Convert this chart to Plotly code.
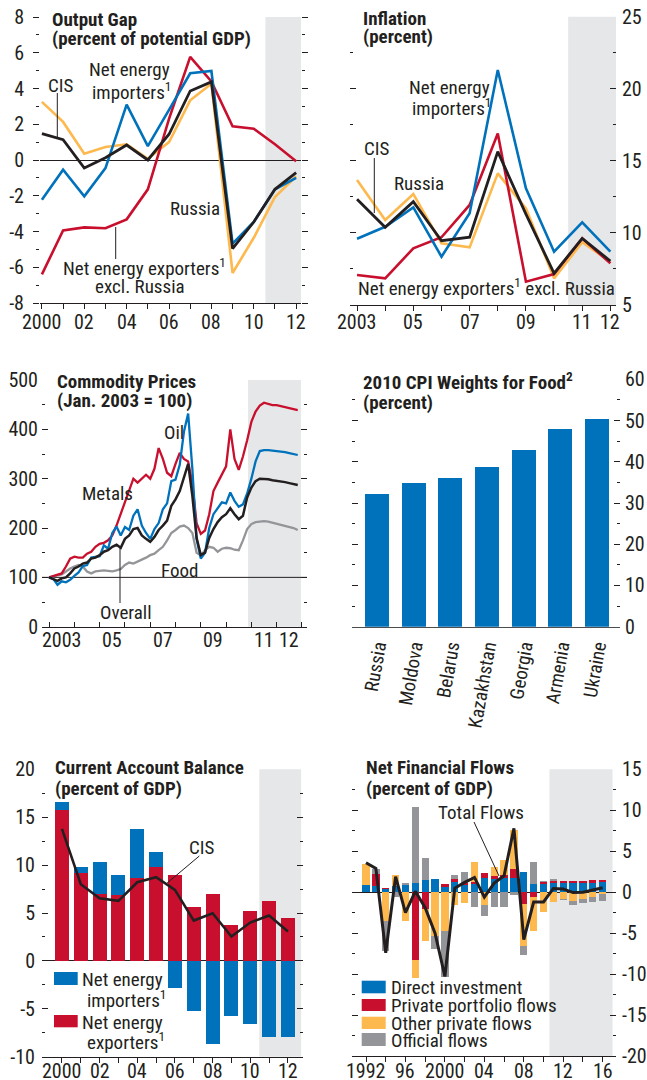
import plotly.graph_objects as go

# ------------------------------------------------------------------ data
gap_years = list(range(2000, 2013))
gap_cis = [1.47, 1.14, -0.45, 0.13, 0.84, 0.0, 1.44, 3.86, 4.37, -4.96, -3.47, -1.64, -0.71]
gap_importers = [-2.22, -0.54, -2.03, -0.45, 3.10, 0.78, 2.80, 4.85, 4.98, -4.68, -3.47, -1.64, -1.00]
gap_russia = [3.25, 2.13, 0.35, 0.73, 0.88, 0.07, 1.00, 3.34, 4.27, -6.32, -4.35, -2.07, -0.91]
gap_exporters = [-6.40, -3.94, -3.77, -3.82, -3.32, -1.64, 2.30, 5.77, 4.40, 1.88, 1.75, 0.88, -0.07]
gap_labels = {2000: "2000", 2002: "02", 2004: "04", 2006: "06", 2008: "08", 2010: "10", 2012: "12"}

inf_years = list(range(2003, 2013))
inf_importers = [9.6, 10.43, 11.77, 8.35, 11.36, 21.3, 13.1, 8.7, 10.73, 8.7]
inf_exporters = [7.08, 6.85, 8.93, 9.7, 11.94, 16.9, 6.62, 7.15, 9.62, 7.89]
inf_russia = [13.67, 10.9, 12.7, 9.28, 9.0, 14.13, 11.7, 6.85, 9.35, 8.0]
inf_cis = [12.33, 10.39, 12.17, 9.46, 9.7, 15.64, 11.3, 7.2, 9.62, 8.05]
inf_labels = {2003: "2003", 2005: "05", 2007: "07", 2009: "09", 2011: "11", 2012: "12"}

com_years = list(range(2003, 2013))
com_months = [1, 3, 5, 7, 9, 11]
com_oil = [100, 97, 85, 92, 90, 95,
           103, 110, 123, 125, 140, 142,
           143, 165, 158, 190, 203, 185,
           202, 196, 225, 238, 205, 190,
           178, 198, 210, 238, 250, 295,
           298, 328, 395, 432, 320, 178,
           138, 150, 200, 228, 240, 252,
           250, 272, 255, 243, 248, 270,
           300, 335, 356, 358, 358, 357,
           357, 356, 354, 352, 350, 348]
com_metals = [100, 103, 106, 108, 122, 138,
              142, 140, 140, 148, 152, 162,
              168, 170, 175, 185, 205, 228,
              250, 275, 300, 292, 300, 308,
              300, 320, 362, 340, 312, 305,
              330, 352, 340, 335, 290, 210,
              188, 195, 228, 275, 292, 310,
              325, 400, 340, 318, 345, 378,
              415, 436, 448, 454, 452, 449,
              449, 447, 445, 443, 441, 439]
com_overall = [100, 96, 93, 98, 100, 108,
               118, 122, 128, 130, 138, 140,
               145, 152, 155, 162, 166, 160,
               178, 185, 198, 200, 185, 178,
               172, 182, 196, 205, 215, 245,
               258, 275, 305, 330, 265, 180,
               145, 150, 180, 198, 212, 222,
               228, 240, 228, 218, 225, 262,
               282, 295, 300, 300, 299, 297,
               296, 295, 293, 291, 289, 287]
com_food = [100, 102, 104, 106, 112, 118,
            122, 125, 122, 112, 108, 112,
            113, 114, 113, 112, 114, 117,
            125, 130, 128, 132, 135, 140,
            145, 148, 155, 162, 175, 190,
            196, 203, 205, 200, 190, 150,
            145, 155, 162, 160, 152, 158,
            160, 159, 156, 155, 175, 198,
            208, 212, 213, 214, 213, 211,
            209, 207, 205, 203, 200, 196]
com_labels = {2003.5: "2003", 2005.5: "05", 2007.5: "07", 2009.5: "09", 2011.5: "11", 2012.5: "12"}

cpi_countries = ["Russia", "Moldova", "Belarus", "Kazakhstan", "Georgia", "Armenia", "Ukraine"]
cpi_weights = [32.2, 34.9, 36.1, 38.8, 42.9, 48.0, 50.4]

ca_years = list(range(2000, 2013))
ca_exporters = [15.77, 9.15, 7.0, 6.86, 8.67, 9.78, 8.98, 5.64, 7.0, 3.76, 5.22, 6.27, 4.49]
ca_importers = [0.8, 0.63, 3.3, 2.09, 5.11, 1.6, -2.78, -5.19, -8.67, -5.71, -6.58, -7.9, -7.97]
ca_cis = [13.78, 8.0, 6.54, 6.27, 8.21, 8.74, 7.41, 4.21, 4.98, 2.54, 4.0, 4.73, 3.06]

ff_years = list(range(1992, 2017))
ff_direct = [0.9, 0.81, 0.37, 0.8, 0.93, 1.1, 1.5, 1.6, 0.57, 1.3, 0.9, 1.02, 1.79,
             1.59, 1.71, 1.79, 2.52, 1.02, 1.02, 1.1, 1.06, 1.06, 1.1, 1.1, 1.22]
ff_portfolio = [0, 1.43, 0.16, 0, 0, -8.26, -2.08, 0, 0.41, 0.29, 0.2, 0.2, 0.53,
                0.33, 0.41, 1.06, -1.42, -0.53, 0.28, 0.28, 0.32, 0.28, 0.28, 0.4, 0.28]
ff_other = [2.56, 0, -3.58, 1.3, -3.58, -2.24, -3.86, -5.3, -4.72, -1.55, -1.34, 2.52, -1.55,
            1.1, 1.83, 4.76, -5.21, -4.27, -2.48, -1.14, -0.81, -1.06, -0.85, -0.53, -0.2]
ff_official = [0, 0.6, -3.66, -0.6, 0.2, 9.28, 2.65, -1.66, -5.66, 0.53, 1.42, -1.83, -1.3,
               -1.75, -1.87, -0.33, -1.1, 2.72, 0.12, 0.21, -0.13, -0.49, -0.49, -0.73, -0.82]
ff_total = [3.6, 2.9, -7.4, 1.9, -2.5, 0.1, -1.9, -5.0, -10.3, 0.5, 1.2, 1.8, -0.6,
            1.1, 2.0, 7.8, -5.8, -1.2, -1.2, 0.45, 0.4, -0.05, 0.0, 0.25, 0.55]
ff_labels = {1992: "1992", 1996: "96", 2000: "2000", 2004: "04", 2008: "08", 2012: "12", 2016: "16"}

# ------------------------------------------------------------------ style
W, H = 647, 1080
FONT = "Liberation Sans Narrow, Arial Narrow, Roboto Condensed, DejaVu Sans Condensed, sans-serif"
TXT = "#231f20"
BLUE = "#0072bc"
RED = "#c8102e"
YEL = "#fdb94e"
GRAY = "#939598"
BLACK = "#231f20"
SHADE = "#e6e7e8"


def X(px):
    return px / W


def Y(py):
    return 1 - py / H


def fmt(v):
    return str(int(v)) if float(v).is_integer() else str(v)


fig = go.Figure()

# panel 1: output gap
for ys, c, w in [(gap_russia, YEL, 2.6), (gap_exporters, RED, 2.6),
                 (gap_importers, BLUE, 2.6), (gap_cis, BLACK, 2.8)]:
    fig.add_trace(go.Scatter(x=gap_years, y=ys, mode="lines", line=dict(color=c, width=w),
                             xaxis="x", yaxis="y"))

# panel 2: inflation
for ys, c, w in [(inf_russia, YEL, 2.6), (inf_exporters, RED, 2.6),
                 (inf_importers, BLUE, 2.6), (inf_cis, BLACK, 2.8)]:
    fig.add_trace(go.Scatter(x=inf_years, y=ys, mode="lines", line=dict(color=c, width=w),
                             xaxis="x2", yaxis="y2"))

# panel 3: commodity prices
com_t = [yr + (m - 1) / 12 for yr in com_years for m in com_months]
for ys, c, w in [(com_food, GRAY, 2.3), (com_metals, RED, 2.3),
                 (com_oil, BLUE, 2.3), (com_overall, BLACK, 2.5)]:
    fig.add_trace(go.Scatter(x=com_t, y=ys, mode="lines", line=dict(color=c, width=w),
                             xaxis="x3", yaxis="y3"))

# panel 4: CPI weights
fig.add_trace(go.Bar(x=cpi_countries, y=cpi_weights, marker=dict(color=BLUE, line=dict(width=0)),
                     width=0.655, xaxis="x4", yaxis="y4"))

# panel 5: current account
fig.add_trace(go.Bar(x=ca_years, y=ca_exporters, marker=dict(color=RED, line=dict(width=0)),
                     width=0.74, xaxis="x5", yaxis="y5"))
fig.add_trace(go.Bar(x=ca_years, y=ca_importers, marker=dict(color=BLUE, line=dict(width=0)),
                     width=0.74, xaxis="x5", yaxis="y5"))
fig.add_trace(go.Scatter(x=ca_years, y=ca_cis, mode="lines", line=dict(color=BLACK, width=2.6),
                         xaxis="x5", yaxis="y5"))

# panel 6: net financial flows
for ys, c in [(ff_direct, BLUE), (ff_portfolio, RED), (ff_other, YEL), (ff_official, GRAY)]:
    fig.add_trace(go.Bar(x=ff_years, y=ys, marker=dict(color=c, line=dict(width=0)),
                         width=0.74, xaxis="x6", yaxis="y6"))
fig.add_trace(go.Scatter(x=ff_years, y=ff_total, mode="lines", line=dict(color=BLACK, width=3),
                         xaxis="x6", yaxis="y6"))

# ------------------------------------------------------------------ axes
tickfont = dict(family=FONT, size=20, color=TXT)
annotations = []


def xax(name, px0, px1, rng, all_ticks, labels, label_py, anchor, ticks="outside"):
    # tick marks drawn by the axis; labels placed as axis-referenced texts
    for v, s in labels.items():
        annotations.append(dict(text=s, x=v, y=Y(label_py), xref=name, yref="paper",
                                xanchor="center", yanchor="middle", showarrow=False,
                                font=tickfont))
    return dict(domain=[X(px0), X(px1)], range=rng, anchor=anchor, tickmode="array",
                tickvals=list(all_ticks), ticks=ticks, ticklen=5, tickwidth=1,
                tickcolor=TXT, showline=True, linecolor=TXT, linewidth=1, showgrid=False,
                zeroline=False, showticklabels=False, fixedrange=True, automargin=False)


def yax(py0, py1, rng, vals, minor_vals, anchor, side, ticks, standoff, zeroline=False):
    return dict(domain=[Y(py1), Y(py0)], range=rng, anchor=anchor, side=side, tickmode="array",
                tickvals=vals, ticktext=[fmt(v) for v in vals], ticks=ticks, ticklen=6,
                tickwidth=1, tickcolor=TXT, mirror="ticks", showline=False, showgrid=False,
                zeroline=zeroline, zerolinecolor=TXT, zerolinewidth=1, tickfont=tickfont,
                ticklabelstandoff=standoff, fixedrange=True, automargin=False,
                minor=dict(tickmode="array", tickvals=minor_vals, ticks=ticks, ticklen=3,
                           tickwidth=1, tickcolor=TXT, showgrid=False))


layout_axes = {}
layout_axes["xaxis"] = xax("x", 40, 301, [1999.91, 2012.23], gap_years, gap_labels, 322, "y")
layout_axes["yaxis"] = yax(17, 303, [-8, 8], list(range(-8, 9, 2)), list(range(-7, 8, 2)),
                           "x", "left", "outside", 5, zeroline=True)

layout_axes["xaxis2"] = xax("x2", 350, 616, [2002.75, 2012.2], inf_years, inf_labels, 322, "y2")
layout_axes["yaxis2"] = yax(16.7, 305, [5, 25], list(range(5, 26, 5)), [7.5, 12.5, 17.5, 22.5],
                            "x2", "right", "inside", 5)

layout_axes["xaxis3"] = xax("x3", 42, 307, [2002.72, 2013.2], list(range(2003, 2014)),
                            com_labels, 640, "y3", ticks="inside")
layout_axes["yaxis3"] = yax(380, 626.7, [0, 500], list(range(0, 501, 100)),
                            list(range(50, 500, 100)), "x3", "left", "inside", 3)

layout_axes["xaxis4"] = dict(domain=[X(352), X(620)], range=[-0.68, 6.63], anchor="y4",
                             type="category", tickangle=-80, ticks="", showline=True,
                             linecolor="#4d4d4f", linewidth=1.5, showgrid=False, zeroline=False,
                             tickfont=dict(family=FONT, size=19, color=TXT), fixedrange=True,
                             automargin=False)
layout_axes["yaxis4"] = yax(379.3, 626.7, [0, 60], list(range(0, 61, 10)),
                            list(range(5, 60, 10)), "x4", "right", "inside", 4)

layout_axes["xaxis5"] = xax("x5", 42, 303, [1998.94, 2012.8], ca_years, gap_labels, 1071, "y5")
layout_axes["yaxis5"] = yax(769.3, 1056.7, [-10, 20], list(range(-10, 21, 5)),
                            [-7.5, -2.5, 2.5, 7.5, 12.5, 17.5], "x5", "left", "inside", 6,
                            zeroline=True)

layout_axes["xaxis6"] = xax("x6", 352, 616, [1990.58, 2017.35], list(range(1992, 2017, 2)),
                            ff_labels, 1070.5, "y6")
layout_axes["yaxis6"] = yax(769.3, 1056, [-20, 15], list(range(-20, 16, 5)),
                            [-17.5, -12.5, -7.5, -2.5, 2.5, 7.5, 12.5], "x6", "right", "inside", 5,
                            zeroline=True)

# ------------------------------------------------------------------ shapes
shapes = []


def shade(xa, x0, x1):
    shapes.append(dict(type="rect", xref=xa, yref=xa.replace("x", "y") + " domain",
                       x0=x0, x1=x1, y0=0, y1=1, fillcolor=SHADE, line=dict(width=0),
                       layer="below"))


shade("x", 2010.55, 2012.23)
shade("x2", 2010.5, 2012.2)
shade("x3", 2010.87, 2012.96)
shade("x5", 2010.48, 2012.7)
shade("x6", 2010.6, 2017.0)

shapes.append(dict(type="line", xref="x3 domain", yref="y3", x0=0, x1=1, y0=100, y1=100,
                   line=dict(color=TXT, width=1), layer="below"))


def leader(p0, p1):
    shapes.append(dict(type="line", xref="paper", yref="paper", x0=X(p0[0]), y0=Y(p0[1]),
                       x1=X(p1[0]), y1=Y(p1[1]), line=dict(color=TXT, width=1)))


def swatch(px0, py0, px1, py1, color):
    shapes.append(dict(type="rect", xref="paper", yref="paper", x0=X(px0), x1=X(px1),
                       y0=Y(py1), y1=Y(py0), fillcolor=color, line=dict(width=0)))


leader((57.3, 93), (57.3, 137))
leader((115.7, 227), (115.7, 259))
leader((374.3, 158), (374.3, 213))
leader((120, 547), (120, 603))
leader((199.3, 856), (166, 884))
leader((474, 822), (499, 876))

swatch(54, 972, 77.7, 985, BLUE)
swatch(54, 1015, 77.7, 1027.3, RED)
swatch(361.7, 980.7, 385.7, 993.3, BLUE)
swatch(361.7, 999, 385.7, 1011, RED)
swatch(361.7, 1016.7, 385.7, 1029, YEL)
swatch(361.7, 1033, 385.7, 1046, GRAY)

# ------------------------------------------------------------------ text


def txt(s, px, py, size=19, anchor="left", bold=False):
    annotations.append(dict(text=("<b>%s</b>" % s) if bold else s, x=X(px), y=Y(py),
                            xref="paper", yref="paper", xanchor=anchor, yanchor="middle",
                            showarrow=False, font=dict(family=FONT, size=size, color=TXT)))


# titles
txt("Output Gap", 50, 19, bold=True)
txt("(percent of potential GDP)", 50, 38.5, bold=True)
txt("Inflation", 361, 18.5, bold=True)
txt("(percent)", 361, 37, bold=True)
txt("Commodity Prices", 55, 381, bold=True)
txt("(Jan. 2003 = 100)", 55, 400, bold=True)
txt("2010 CPI Weights for Food<sup>2</sup>", 361, 381, bold=True)
txt("(percent)", 361, 402, bold=True)
txt("Current Account Balance", 53, 767, bold=True)
txt("(percent of GDP)", 53, 788, bold=True)
txt("Net Financial Flows", 364, 767, bold=True)
txt("(percent of GDP)", 364, 788, bold=True)

# panel 1 labels
txt("CIS", 46, 85)
txt("Net energy", 87, 70)
txt("importers<sup>1</sup>", 90, 91)
txt("Russia", 168, 208)
txt("Net energy exporters<sup>1</sup>", 61, 267)
txt("excl. Russia", 93, 286)

# panel 2 labels
txt("Net energy", 407, 87)
txt("importers<sup>1</sup>", 410, 107)
txt("CIS", 362, 148)
txt("Russia", 392, 183)
txt("Net energy exporters<sup>1</sup> excl. Russia", 356, 287)

# panel 3 labels
txt("Oil", 162, 432)
txt("Metals", 80, 493)
txt("Food", 159, 570)
txt("Overall", 98, 613)

# panel 5 labels
txt("CIS", 187, 847)
txt("Net energy", 79.5, 979)
txt("importers<sup>1</sup>", 85, 999)
txt("Net energy", 79.5, 1022)
txt("exporters<sup>1</sup>", 85, 1041)

# panel 6 labels
txt("Total Flows", 436, 812)
txt("Direct investment", 389, 987)
txt("Private portfolio flows", 389, 1005)
txt("Other private flows", 389, 1023)
txt("Official flows", 389, 1040)

fig.update_layout(
    width=W, height=H, margin=dict(l=0, r=0, t=0, b=0, autoexpand=False), autosize=False,
    paper_bgcolor="white", plot_bgcolor="rgba(0,0,0,0)", showlegend=False,
    barmode="relative", bargap=0, font=dict(family=FONT, size=19, color=TXT),
    shapes=shapes, annotations=annotations, **layout_axes)

fig.write_html("out.html", config=dict(displayModeBar=False, staticPlot=True))

# remove the default page margin so the 647x1080 figure fills the window exactly
with open("out.html", "r", encoding="utf-8") as f:
    page = f.read()
page = page.replace("<head>", "<head><style>html,body{margin:0;padding:0;overflow:hidden;}</style>", 1)
with open("out.html", "w", encoding="utf-8") as f:
    f.write(page)
